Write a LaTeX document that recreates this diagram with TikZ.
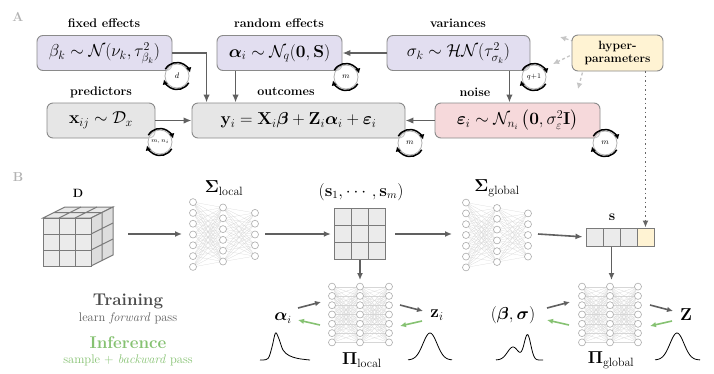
\documentclass[tikz,border=0pt]{standalone}
\usepackage{amsmath,amssymb,bm}
\usetikzlibrary{arrows.meta,backgrounds,calc}
\definecolor{lav}{HTML}{E2DEF0}
\definecolor{gbox}{HTML}{E6E6E6}
\definecolor{pinkbox}{HTML}{F6D9DB}
\definecolor{yel}{HTML}{FFF3D3}
\definecolor{arr}{HTML}{606060}
\definecolor{grn}{HTML}{86C272}
\definecolor{edgegray}{HTML}{8A8A8A}
\definecolor{cellgray}{HTML}{EBEBEB}
\definecolor{cellline}{HTML}{7A7A7A}
\tikzset{
  panel/.style={font=\fontsize{13}{15}\selectfont\bfseries, text=gray!60},
  captxt/.style={font=\fontsize{12.5}{14}\selectfont\bfseries, inner sep=0pt},
  box/.style={draw=edgegray, line width=0.9pt, rounded corners=6pt, minimum height=35pt, inner sep=0pt, font=\fontsize{17}{20}\selectfont},
  arrowA/.style={draw=arr, line width=1.6pt, -{Latex[length=8pt,width=6.5pt]}},
  arrowB/.style={draw=arr, line width=1.6pt, -{Latex[length=7pt,width=6pt]}},
  arrowG/.style={draw=grn, line width=1.6pt, -{Latex[length=6pt,width=5.5pt]}},
  arrowS/.style={draw=arr, line width=1.6pt, -{Latex[length=6pt,width=5.5pt]}},
  hdash/.style={draw=gray!45, line width=1.3pt, dash pattern=on 3pt off 2.5pt, -{Latex[length=6pt,width=6pt]}},
  dotarrow/.style={draw=gray!80!black, line width=1.4pt, dash pattern=on 1.5pt off 3pt, -{Latex[length=7pt,width=6pt]}},
  nnedge/.style={draw=gray!32, line width=0.2pt},
  nnnode/.style={draw=gray!65, fill=white, line width=0.6pt},
  cell/.style={draw=cellline, fill=cellgray, line width=1pt},
  loopar/.style={draw=black, line width=1.5pt, -{Latex[length=5pt,width=5.5pt]}},
  looplab/.style={font=\fontsize{8}{9}\selectfont\itshape, inner sep=0pt},
  dens/.style={draw=black, line width=0.8pt},
}
% #1 x1, #2 x2, #3 x3, #4 ycenter, #5 n1, #6 n2, #7 n3, #8 spacing
\newcommand{\mynet}[8]{%
  \foreach \i in {1,...,#5}{\foreach \j in {1,...,#6}{%
    \draw[nnedge] (#1,{#4+(\i-(#5+1)/2)*#8}) -- (#2,{#4+(\j-(#6+1)/2)*#8});}}
  \foreach \i in {1,...,#6}{\foreach \j in {1,...,#7}{%
    \draw[nnedge] (#2,{#4+(\i-(#6+1)/2)*#8}) -- (#3,{#4+(\j-(#7+1)/2)*#8});}}
  \foreach \i in {1,...,#5}{\draw[nnnode] (#1,{#4+(\i-(#5+1)/2)*#8}) circle (3.5);}
  \foreach \i in {1,...,#6}{\draw[nnnode] (#2,{#4+(\i-(#6+1)/2)*#8}) circle (3.5);}
  \foreach \i in {1,...,#7}{\draw[nnnode] (#3,{#4+(\i-(#7+1)/2)*#8}) circle (3.5);}
}
% #1 name, #2 x, #3 y, #4 label
\newcommand{\myloop}[4]{%
  \begin{scope}[shift={(#2,#3)}]
    \fill[white,opacity=0.55] (0,0) circle (12);
    \draw[gray!60,line width=0.8pt] (0,0) circle (12);
    \draw[loopar] (-150:13.5) arc[start angle=-150,end angle=-15,radius=13.5];
    \draw[loopar] (30:13.5) arc[start angle=30,end angle=165,radius=13.5];
    \node[looplab] (#1) at (0,0) {#4};
  \end{scope}
}
\begin{document}
\begin{tikzpicture}[x=1pt,y=-1pt]
\begin{scope}[on background layer]
\path[fill=white] (0,0) rectangle (714,373);
\end{scope}
\useasboundingbox (0,0) rectangle (714,373);

% ---------------- Panel A ----------------
\node[panel] (lA) at (18,17) {A};

\node[captxt] (cfix) at (104,23) {fixed effects};
\node[captxt] (crand) at (279,23) {random effects};
\node[captxt] (cvar) at (458,23) {variances};
\node[captxt] (cpred) at (101,92) {predictors};
\node[captxt] (cout) at (286,92) {outcomes};
\node[captxt] (cnoise) at (475,92) {noise};

\node[box,fill=lav,minimum width=135pt] (beta) at (104.5,53) {$\beta_k \sim \mathcal{N}(\nu_k, \tau^2_{\beta_k})$};
\node[box,fill=lav,minimum width=125pt] (alpha) at (279.5,53) {$\bm{\alpha}_i \sim \mathcal{N}_q(\mathbf{0}, \mathbf{S})$};
\node[box,fill=lav,minimum width=143pt] (sigma) at (458.5,53) {$\sigma_k \sim \mathcal{HN}(\tau^2_{\sigma_k})$};
\node[box,fill=gbox,minimum width=108pt] (xb) at (101,120.5) {$\mathbf{x}_{ij} \sim \mathcal{D}_x$};
\node[box,fill=gbox,minimum width=213pt] (ybox) at (298.5,120.5) {$\mathbf{y}_i = \mathbf{X}_i\bm{\beta} + \mathbf{Z}_i\bm{\alpha}_i + \bm{\varepsilon}_i$};
\node[box,fill=pinkbox,minimum width=165pt] (eps) at (517.5,120.5) {$\bm{\varepsilon}_i \sim \mathcal{N}_{n_i}\left(\mathbf{0}, \sigma^2_{\varepsilon}\mathbf{I}\right)$};
\node[box,fill=yel,minimum width=91pt,minimum height=36pt,align=center,font=\fontsize{12}{13}\selectfont\bfseries] (hyp) at (617.5,53) {hyper-\\parameters};

% hyperparameter dashed arrows (behind the box)
\coordinate (hsrc) at ($(hyp.west)+(18pt,7pt)$);
\coordinate (h1) at (560,37);
\coordinate (h2) at (553,64);
\coordinate (h3) at (578,89);
\begin{scope}[on background layer]
  \draw[hdash] (hsrc) -- (h1);
  \draw[hdash] (hsrc) -- (h2);
  \draw[hdash] (hsrc) -- (h3);
\end{scope}

% connectors
\draw[arrowA] (beta.east) -| ([xshift=15pt]ybox.north west);
\draw[arrowA] ([xshift=19pt]alpha.south west) -- ([xshift=19pt]alpha.south west |- ybox.north);
\draw[arrowA] (sigma.west) -- (alpha.east);
\draw[arrowA] ([xshift=-21pt]sigma.south east) -- ([xshift=-21pt]sigma.south east |- eps.north);
\draw[arrowA] (eps.west) -- (ybox.east);
\draw[arrowA] (xb.east) -- (ybox.west);

% loops
\myloop{lpd}{177}{76}{$d$}
\myloop{lpa}{346}{77}{$m$}
\myloop{lps}{534}{77}{\fontsize{7}{8}\selectfont$q{+}1$}
\myloop{lpx}{160}{142}{\fontsize{6}{7}\selectfont$m, n_i$}
\myloop{lpy}{410}{143}{$m$}
\myloop{lpe}{605}{143}{$m$}

% ---------------- Panel B ----------------
\node[panel] (lB) at (18,177) {B};
\node[font=\fontsize{13}{15}\selectfont] (dlab) at (78,193) {$\mathbf{D}$};

% cube
\begin{scope}[line width=1pt, draw=cellline]
  \filldraw[fill=gray!18,draw=cellline] (43,218) -- (91,218) -- (113,207) -- (65,207) -- cycle;
  \filldraw[fill=gray!27,draw=cellline] (91,218) -- (113,207) -- (113,255) -- (91,266) -- cycle;
  \filldraw[fill=cellgray,draw=cellline] (43,218) rectangle (91,266);
  \draw[cellline] (59,218) -- (59,266) (75,218) -- (75,266) (43,234) -- (91,234) (43,250) -- (91,250);
  \draw[cellline] (54,212.5) -- (102,212.5) (59,218) -- (81,207) (75,218) -- (97,207);
  \draw[cellline] (102,212.5) -- (102,260.5) (91,234) -- (113,223) (91,250) -- (113,239);
\end{scope}
\coordinate (cubeout) at (128,234);

% Sigma local
\node[font=\fontsize{17}{19}\selectfont] (slocal) at (224,188) {$\bm{\Sigma}_{\mathrm{local}}$};
\mynet{193}{223}{255}{234.5}{7}{6}{5}{10.8}
\coordinate (nn1w) at (182,234);
\coordinate (nn1e) at (265,234);

% grid of summaries
\node[font=\fontsize{16}{18}\selectfont] (slist) at (361,192) {$(\mathbf{s}_1, \cdots, \mathbf{s}_m)$};
\node[minimum width=52pt,minimum height=51pt,inner sep=0pt] (grid) at (360,234) {};
\foreach \c in {0,1,2}{\foreach \r in {0,1,2}{
  \draw[cell] ({334+\c*17.33},{208.5+\r*17}) rectangle ++(17.33,17);}}

% Sigma global
\node[font=\fontsize{17}{19}\selectfont] (sglobal) at (497,188) {$\bm{\Sigma}_{\mathrm{global}}$};
\mynet{466}{497}{528}{235}{7}{6}{5}{10.8}
\coordinate (nn2w) at (452,234);
\coordinate (nn2e) at (538,234);

% s vector
\node[font=\fontsize{15}{17}\selectfont] (slab) at (612,217) {$\mathbf{s}$};
\node[cell,minimum width=17pt,minimum height=18pt,inner sep=0pt] (s1) at (594.5,237) {};
\node[cell,minimum width=17pt,minimum height=18pt,inner sep=0pt] (s2) at (611.5,237) {};
\node[cell,minimum width=17pt,minimum height=18pt,inner sep=0pt] (s3) at (628.5,237) {};
\node[cell,fill=yel,minimum width=17pt,minimum height=18pt,inner sep=0pt] (s4) at (645.5,237) {};

% dotted hyperparameter link
\draw[dotarrow] (s4.north |- hyp.south) -- (s4.north);

% Pi local / Pi global networks
\mynet{332}{360}{389}{314.5}{7}{7}{7}{9.3}
\mynet{582}{610}{638}{314.5}{7}{7}{7}{9.3}
\coordinate (nn3n) at (360,280);
\coordinate (nn4n) at (610,280);
\node[font=\fontsize{17}{19}\selectfont] (plocal) at (362,360) {$\bm{\Pi}_{\mathrm{local}}$};
\node[font=\fontsize{17}{19}\selectfont] (pglobal) at (611,360) {$\bm{\Pi}_{\mathrm{global}}$};

% B connectors
\draw[arrowB] (cubeout) -- (nn1w);
\draw[arrowB,shorten >=3pt] (nn1e) -- (grid.west);
\draw[arrowB,shorten <=9pt] (grid.east) -- (nn2w);
\draw[arrowB,shorten >=3pt] (nn2e) -- (s1.west);
\draw[arrowB] (grid.south) -- (grid.south |- nn3n);
\draw[arrowB] (s2.south) -- (s2.south |- nn4n);

% local outputs
\node[font=\fontsize{16}{18}\selectfont] (alab) at (283,318) {$\bm{\alpha}_i$};
\coordinate (a1) at (298,308); \coordinate (a2) at (321,302);
\coordinate (a3) at (320,325); \coordinate (a4) at (298,320);
\draw[arrowS] (a1) -- (a2);
\draw[arrowG] (a3) -- (a4);
\node[font=\fontsize{17}{19}\selectfont] (zilab) at (437,315) {$\mathbf{z}_i$};
\coordinate (z1) at (400,305); \coordinate (z2) at (423,311);
\coordinate (z3) at (422,321); \coordinate (z4) at (400,326);
\draw[arrowS] (z1) -- (z2);
\draw[arrowG] (z3) -- (z4);

% global outputs
\node[font=\fontsize{17}{19}\selectfont] (bslab) at (513,315) {$(\bm{\beta}, \bm{\sigma})$};
\coordinate (b1) at (547,308); \coordinate (b2) at (570,302);
\coordinate (b3) at (569,325); \coordinate (b4) at (547,320);
\draw[arrowS] (b1) -- (b2);
\draw[arrowG] (b3) -- (b4);
\node[font=\fontsize{17}{19}\selectfont] (Zlab) at (686,315) {$\mathbf{Z}$};
\coordinate (Z1) at (650,305); \coordinate (Z2) at (673,311);
\coordinate (Z3) at (672,321); \coordinate (Z4) at (650,326);
\draw[arrowS] (Z1) -- (Z2);
\draw[arrowG] (Z3) -- (Z4);

% densities
\draw[dens] plot[smooth,tension=0.55] coordinates {(260,360) (268,358.5) (272,347) (275.5,333) (279,339) (283,350) (289,355.5) (298,358.5) (310,360)};
\draw[dens] plot[domain=408:452,samples=60] (\x,{360-27*exp(-((\x-430)/7)^2/2)});
\draw[dens] plot[domain=496:543,samples=80] (\x,{360-13*exp(-((\x-513)/5.5)^2/2)-25*exp(-((\x-527.5)/3.3)^2/2)});
\draw[dens] plot[domain=655:700,samples=60] (\x,{360-27*exp(-((\x-677)/7)^2/2)});

% legend texts
\node[font=\fontsize{17}{19}\selectfont\bfseries, text=gray!60!black] (train) at (128,301) {Training};
\node[font=\fontsize{12.5}{14}\selectfont, text=gray!75!black] (trainsub) at (128,318) {learn \textit{forward} pass};
\node[font=\fontsize{17}{19}\selectfont\bfseries, text=grn] (infer) at (128,343) {Inference};
\node[font=\fontsize{12.5}{14}\selectfont, text=grn] (infersub) at (128,360) {sample + \textit{backward} pass};
\end{tikzpicture}
\end{document}
